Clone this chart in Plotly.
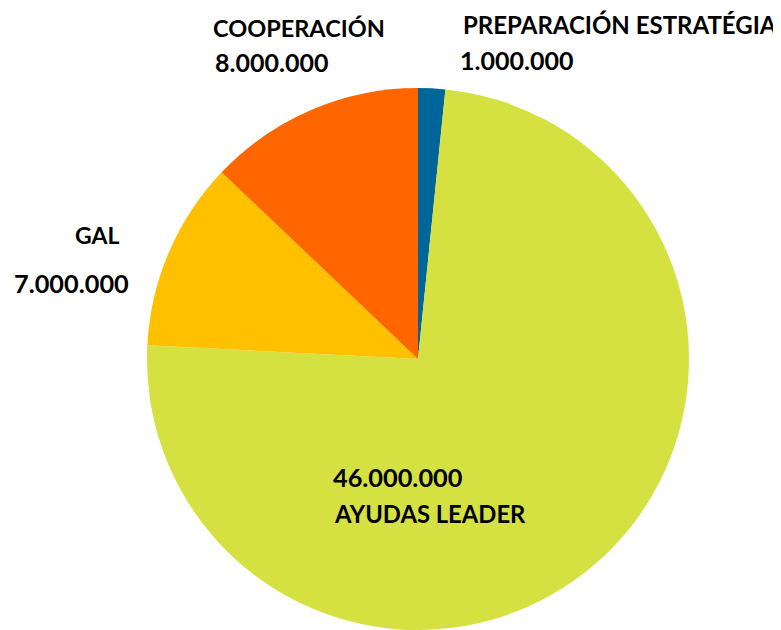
import plotly.graph_objects as go

categories = ["PREPARACIÓN ESTRATÉGIA", "AYUDAS LEADER", "GAL", "COOPERACIÓN"]
values = [1000000, 46000000, 7000000, 8000000]
value_labels = ["1.000.000", "46.000.000", "7.000.000", "8.000.000"]
colors = ["#006699", "#D4E141", "#FFC000", "#FF6600"]

# page body has an 8px margin; work in window pixels and shift
OFF = 8
W, H = 781 - OFF, 630 - OFF
ML, MT, MB = 146 - OFF, 88 - OFF, 0
PW = 544
MR = W - ML - PW
PH = H - MT - MB


def px(x):
    return (x - OFF - ML) / PW


def py(y):
    return (H - MB - (y - OFF)) / PH


fig = go.Figure(go.Pie(
    labels=categories,
    values=values,
    sort=False,
    direction="clockwise",
    rotation=0,
    marker=dict(colors=colors, line=dict(width=0)),
    textinfo="none",
    hoverinfo="label+value",
    showlegend=False,
))

FAM = "Lato, Open Sans, sans-serif"
ann = [
    # (text, x, y, xanchor, size)
    (categories[3], 211, 28, "left", 23.5),
    (value_labels[3], 213, 62, "left", 25),
    (categories[0], 461, 24, "left", 24),
    (value_labels[0], 458, 60, "left", 25),
    (categories[2], 97, 235, "center", 23),
    (value_labels[2], 12, 283, "left", 25.3),
    (value_labels[1], 331, 477, "left", 25.3),
    (categories[1], 332, 514, "left", 23.8),
]
annotations = [
    dict(text="<b>%s</b>" % t, x=px(x), y=py(y), xref="paper", yref="paper",
         xanchor=xa, yanchor="middle", showarrow=False,
         font=dict(family=FAM, size=s, color="#000000"))
    for t, x, y, xa, s in ann
]

fig.update_layout(
    width=W, height=H,
    margin=dict(l=ML, r=MR, t=MT, b=MB),
    paper_bgcolor="white", plot_bgcolor="white",
    annotations=annotations,
)

fig.write_html("out.html")
